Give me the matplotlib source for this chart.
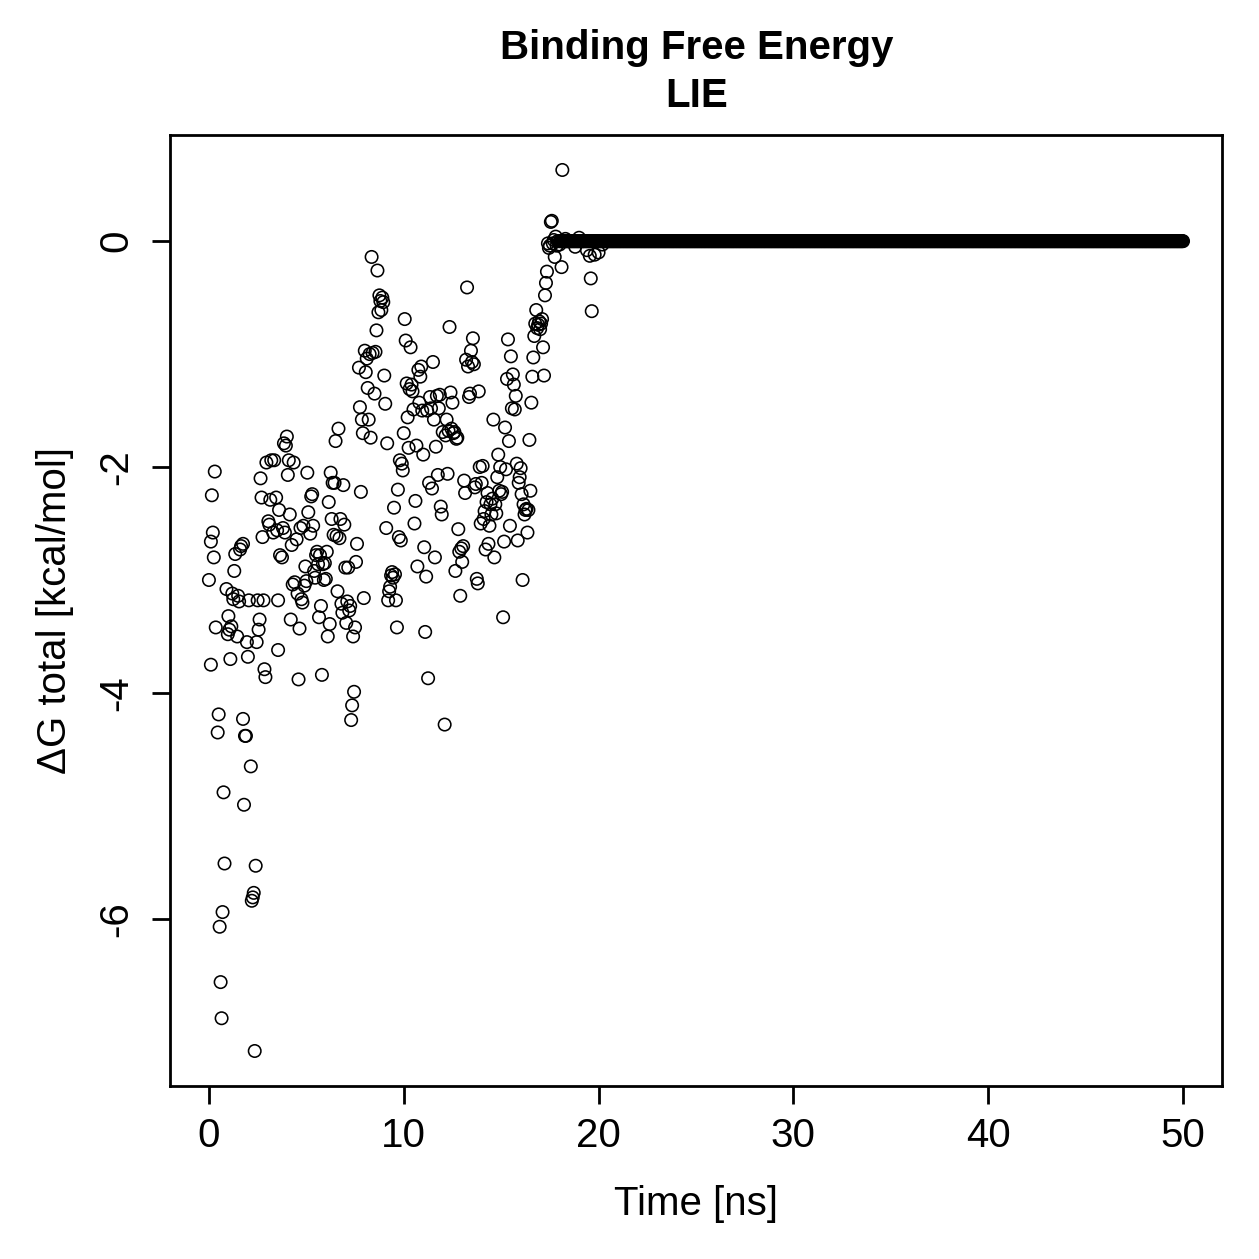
import numpy as np
import matplotlib
matplotlib.use("Agg")
import matplotlib.pyplot as plt

plt.rcParams['font.family'] = ['Liberation Sans', 'DejaVu Sans']

# LIE binding free energy per frame
time_ns = [
    0.00, 0.10, 0.15, 0.20, 0.25, 0.30, 0.10, 0.35, 0.45, 0.50,
    0.55, 0.60, 0.65, 0.70, 0.75, 0.80, 0.90, 0.97, 1.00, 1.05,
    1.10, 1.15, 1.20, 1.25, 1.30, 1.35, 1.45, 1.50, 1.55, 1.60,
    1.65, 1.75, 1.75, 1.80, 1.85, 1.90, 1.95, 2.00, 2.05, 2.15,
    2.20, 2.25, 2.30, 2.35, 2.40, 2.45, 2.50, 2.55, 2.60, 2.65,
    2.70, 2.75, 2.80, 2.85, 2.90, 2.95, 3.05, 3.10, 3.15, 3.20,
    3.30, 3.35, 3.45, 3.50, 3.55, 3.55, 3.60, 3.65, 3.75, 3.80,
    3.85, 3.90, 3.95, 4.00, 4.05, 4.10, 4.15, 4.20, 4.25, 4.30,
    4.35, 4.40, 4.50, 4.55, 4.60, 4.65, 4.70, 4.75, 4.80, 4.85,
    4.90, 4.95, 5.00, 5.05, 5.10, 5.20, 5.25, 5.30, 5.35, 5.40,
    5.45, 5.50, 5.55, 5.60, 5.65, 5.70, 5.75, 5.80, 5.85, 5.90,
    5.95, 6.00, 6.05, 6.10, 6.15, 6.20, 6.25, 6.30, 6.35, 6.40,
    6.45, 6.50, 6.55, 6.60, 6.65, 6.70, 6.75, 6.80, 6.85, 6.90,
    6.95, 7.00, 7.05, 7.10, 7.15, 7.20, 7.25, 7.30, 7.35, 7.40,
    7.45, 7.50, 7.55, 7.60, 7.70, 7.75, 7.80, 7.85, 7.90, 7.95,
    8.00, 8.05, 8.10, 8.15, 8.20, 8.25, 8.30, 8.35, 8.40, 8.50,
    8.55, 8.60, 8.65, 8.70, 8.75, 8.80, 8.85, 8.90, 8.95, 9.00,
    9.05, 9.10, 9.15, 9.20, 9.25, 9.30, 9.35, 9.40, 9.45, 9.50,
    9.55, 9.60, 9.65, 9.70, 9.75, 9.80, 9.85, 9.90, 9.95, 10.00,
    10.05, 10.10, 10.15, 10.20, 10.25, 10.30, 10.35, 10.40, 10.45, 10.50,
    10.55, 10.60, 10.65, 10.70, 10.75, 10.80, 10.85, 10.90, 10.95, 11.00,
    11.05, 11.10, 11.15, 11.20, 11.25, 11.30, 11.35, 11.40, 11.45, 11.50,
    11.55, 11.60, 11.65, 11.70, 11.75, 11.80, 11.85, 11.90, 11.95, 12.00,
    12.10, 12.15, 12.20, 12.25, 12.30, 12.35, 12.40, 12.45, 12.50, 12.55,
    12.60, 12.65, 12.70, 12.75, 12.80, 12.85, 12.90, 12.95, 13.00, 13.05,
    13.10, 13.15, 13.20, 13.25, 13.30, 13.35, 13.40, 13.45, 13.50, 13.55,
    13.60, 13.65, 13.70, 13.75, 13.80, 13.85, 13.90, 13.95, 14.00, 14.05,
    14.10, 14.15, 14.20, 14.25, 14.30, 14.35, 14.40, 14.45, 14.50, 14.55,
    14.60, 14.65, 14.70, 14.75, 14.80, 14.85, 14.90, 14.95, 15.00, 15.05,
    15.10, 15.15, 15.20, 15.25, 15.30, 15.35, 15.40, 15.45, 15.50, 15.55,
    15.60, 15.65, 15.70, 15.75, 15.80, 15.85, 15.90, 15.95, 16.00, 16.05,
    16.10, 16.15, 16.20, 16.25, 16.30, 16.35, 16.40, 16.45, 16.50, 16.55,
    16.60, 16.65, 16.70, 16.75, 16.80, 16.85, 16.90, 16.95, 17.00, 17.05,
    17.10, 17.15, 17.20, 17.25, 17.30, 17.35, 17.40, 17.45, 17.50, 17.55,
    17.60, 17.65, 17.70, 17.75, 17.80, 17.85, 17.90, 18.00, 18.10, 18.14,
    18.30, 18.50, 18.80, 19.00, 19.20, 19.40, 19.55, 19.60, 19.65, 19.80,
    20.00, 20.20,
]
dg_total = [
    -3.00, -2.66, -2.25, -2.58, -2.80, -2.04, -3.75, -3.42, -4.35, -4.19,
    -6.07, -6.56, -6.88, -5.94, -4.88, -5.51, -3.08, -3.48, -3.32, -3.44,
    -3.70, -3.41, -3.12, -3.17, -2.92, -2.77, -3.50, -3.14, -3.19, -2.73,
    -2.70, -2.68, -4.23, -4.99, -4.38, -4.38, -3.55, -3.68, -3.18, -4.65,
    -5.84, -5.81, -5.77, -7.17, -5.53, -3.55, -3.18, -3.44, -3.35, -2.10,
    -2.27, -2.62, -3.18, -3.79, -3.86, -1.96, -2.48, -2.51, -2.29, -1.94,
    -2.58, -1.94, -2.27, -2.56, -3.18, -3.62, -2.38, -2.78, -2.80, -2.54,
    -1.79, -2.58, -1.81, -1.73, -2.07, -1.94, -2.42, -3.35, -2.69, -3.04,
    -1.96, -3.02, -2.64, -3.12, -3.88, -3.43, -2.54, -3.17, -3.20, -2.52,
    -3.05, -2.88, -3.01, -2.05, -2.40, -2.59, -2.26, -2.24, -2.52, -2.92,
    -2.98, -2.78, -2.75, -2.86, -3.33, -2.78, -3.23, -3.84, -2.86, -3.00,
    -2.85, -2.99, -2.75, -3.50, -2.31, -3.39, -2.05, -2.46, -2.14, -2.60,
    -2.14, -1.77, -2.61, -3.10, -1.66, -2.63, -2.46, -3.21, -3.29, -2.16,
    -2.51, -2.89, -3.38, -3.19, -2.89, -3.27, -3.23, -4.24, -4.11, -3.50,
    -3.99, -3.42, -2.84, -2.68, -1.12, -1.47, -2.22, -1.58, -1.70, -3.16,
    -0.97, -1.16, -1.04, -1.30, -1.58, -1.00, -1.74, -0.14, -0.99, -1.35,
    -0.98, -0.79, -0.26, -0.63, -0.48, -0.53, -0.61, -0.50, -0.54, -1.19,
    -1.44, -2.54, -1.79, -3.18, -3.10, -3.06, -2.96, -2.93, -2.98, -2.36,
    -2.95, -3.18, -3.42, -2.20, -2.62, -1.94, -2.65, -1.97, -2.03, -1.70,
    -0.69, -0.88, -1.26, -1.56, -1.83, -1.31, -0.94, -1.27, -1.33, -1.49,
    -2.50, -2.30, -1.81, -2.88, -1.14, -1.43, -1.20, -1.11, -1.50, -1.89,
    -2.71, -3.46, -2.97, -1.50, -3.87, -2.14, -1.38, -1.48, -2.19, -1.07,
    -1.58, -2.80, -1.82, -1.37, -2.07, -1.48, -1.36, -2.35, -2.42, -1.69,
    -4.28, -1.72, -1.58, -2.06, -1.68, -0.76, -1.34, -1.66, -1.43, -1.70,
    -1.69, -2.92, -1.75, -1.74, -2.55, -2.75, -3.14, -2.72, -2.84, -2.70,
    -2.12, -2.23, -1.05, -0.41, -1.11, -1.38, -1.35, -0.97, -1.07, -0.86,
    -1.09, -2.18, -2.15, -2.99, -3.03, -1.33, -2.00, -2.50, -2.14, -1.99,
    -2.46, -2.39, -2.73, -2.31, -2.23, -2.68, -2.52, -2.33, -2.42, -2.28,
    -1.58, -2.80, -2.33, -2.41, -2.09, -1.89, -2.21, -2.00, -2.24, -2.22,
    -3.33, -2.66, -1.65, -2.02, -1.22, -0.87, -1.77, -2.52, -1.02, -1.48,
    -1.18, -1.27, -1.49, -1.37, -1.97, -2.65, -2.14, -2.09, -2.01, -2.24,
    -3.00, -2.33, -2.42, -2.38, -2.37, -2.58, -2.38, -1.76, -2.21, -1.43,
    -1.20, -1.03, -0.84, -0.73, -0.61, -0.77, -0.74, -0.71, -0.78, -0.73,
    -0.69, -0.94, -1.19, -0.48, -0.37, -0.27, -0.02, -0.06, -0.04, 0.17,
    0.18, -0.02, 0.01, -0.14, 0.04, -0.04, 0.00, -0.03, -0.23, 0.63,
    0.02, 0.00, -0.05, 0.03, 0.00, -0.08, -0.13, -0.33, -0.62, -0.12,
    -0.10, -0.03,
]

# flat part of the run: every frame sits at 0 kcal/mol
tail_start, tail_end, tail_step = 18.0, 50.0, 0.04
tail_time = np.arange(tail_start, tail_end + tail_step / 2, tail_step)
tail_dg = np.zeros_like(tail_time)

t_all = np.concatenate([time_ns, tail_time])
dg_all = np.concatenate([dg_total, tail_dg])

fig = plt.figure(figsize=(12.59, 12.59), dpi=100)
ax = fig.add_axes([0.135, 0.1374, 0.8356, 0.7554])

ax.scatter(t_all, dg_all, s=80, facecolors='none', edgecolors='black',
           linewidths=1.15, clip_on=False)

ax.set_xlim(-2, 52)
ax.set_ylim(-7.48, 0.94)
ax.set_xticks([0, 10, 20, 30, 40, 50])
ax.set_yticks([-6, -4, -2, 0])
ax.set_yticklabels(['-6', '-4', '-2', '0'], rotation=90, va='center')

for sp in ax.spines.values():
    sp.set_linewidth(2.0)
ax.tick_params(axis='both', length=13, width=2.0, labelsize=29)
ax.tick_params(axis='x', pad=9)
ax.tick_params(axis='y', pad=12)

ax.set_xlabel('Time [ns]', fontsize=29)
ax.set_ylabel('\u0394G total [kcal/mol]', fontsize=29)
ax.xaxis.set_label_coords(0.5, -0.104)
ax.yaxis.set_label_coords(-0.091, 0.5)

fig.text(0.553, 1 - 48 / 1259, 'Binding Free Energy', ha='center', va='center',
         fontsize=29, fontweight='bold')
fig.text(0.553, 1 - 96 / 1259, 'LIE', ha='center', va='center',
         fontsize=29, fontweight='bold')

fig.savefig('out.png', dpi=100)
plt.close(fig)
